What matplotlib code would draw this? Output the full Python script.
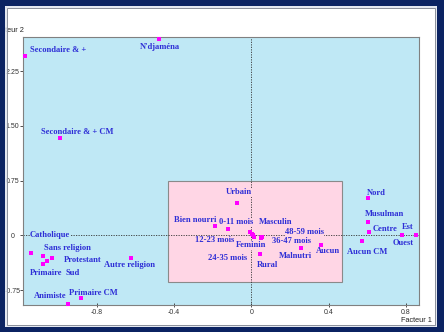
import numpy as np
import matplotlib.pyplot as plt
from matplotlib.patches import Rectangle

# modalities and their coordinates on factor 1 / factor 2
names = ["Secondaire & +", "N'djaména", "Secondaire & + CM", "Catholique", "Sans religion",
         "Protestant", "Sud", "Primaire", "Autre religion", "Animiste", "Primaire CM",
         "Urbain", "Bien nourri", "0-11 mois", "Masculin", "12-23 mois", "24-35 mois",
         "Feminin", "48-59 mois", "36-47 mois", "Rural", "Malnutri", "Aucun",
         "Nord", "Musulman", "Centre", "Est", "Ouest", "Aucun CM"]
f1 = [-1.173, -0.478, -0.991, -1.141, -1.081, -1.031, -1.058, -1.078, -0.623, -0.948, -0.881,
      -0.073, -0.188, -0.119, -0.007, 0.005, 0.009, 0.014, 0.057, 0.050, 0.045, 0.256, 0.360,
      0.606, 0.606, 0.611, 0.779, 0.855, 0.572]
f2 = [2.456, 2.689, 1.333, -0.238, -0.288, -0.307, -0.352, -0.393, -0.315, -0.937, -0.863,
      0.438, 0.127, 0.086, 0.041, 0.014, -0.003, -0.019, -0.023, -0.034, -0.252, -0.170, -0.129,
      0.511, 0.178, 0.049, 0.0, 0.0, -0.078]

xticks = [-0.8, -0.4, 0, 0.4, 0.8]
xtick_labels = ["-0.8", "-0.4", "0", "0.4", "0.8"]
yticks = [-0.75, 0, 0.75, 1.5, 2.25]
ytick_labels = ["-0.75", "0", "0.75", "1.50", "2.25"]

# zoom box (pink area)
box_x = (-0.434, 0.4715)
box_y = (-0.636, 0.744)

# label offsets in pixels (dx, dy, alignment)
label_pos = {
    "Secondaire & +": (5, 6, "left"),
    "N'djaména": (1, -8, "center"),
    "Secondaire & + CM": (17, 6, "center"),
    "Catholique": (-1, 17.7, "left"),
    "Sans religion": (1.6, 8, "left"),
    "Protestant": (12, -2.3, "left"),
    "Sud": (18, -11.7, "left"),
    "Primaire": (-13.6, -8.7, "left"),
    "Autre religion": (-1.7, -6.4, "center"),
    "Animiste": (-1.6, 7.7, "right"),
    "Primaire CM": (-12, 5, "left"),
    "Urbain": (2, 11, "center"),
    "Bien nourri": (1.7, 6, "right"),
    "0-11 mois": (-9.3, 6.7, "left"),
    "Masculin": (9.3, 10, "left"),
    "12-23 mois": (-18.3, -5.7, "right"),
    "24-35 mois": (-5.7, -22.2, "right"),
    "Feminin": (-3, -8.6, "center"),
    "48-59 mois": (22.7, 5.3, "left"),
    "36-47 mois": (11, -2.9, "left"),
    "Rural": (7, -11.3, "center"),
    "Malnutri": (-5.2, -8, "center"),
    "Aucun": (7.6, -6.3, "center"),
    "Nord": (-1.6, 5, "left"),
    "Musulman": (-3.3, 8, "left"),
    "Centre": (3.4, 3, "left"),
    "Est": (0, 8, "left"),
    "Ouest": (-2.3, -7.7, "right"),
    "Aucun CM": (5.8, -10.7, "center"),
}

W, H = 444, 332
bg_blue = "#bfe8f5"
bg_pink = "#ffd6e5"
txt_blue = "#2e2ed6"

fig = plt.figure(figsize=(W / 100, H / 100), dpi=100)
fig.patch.set_facecolor("white")
ax = fig.add_axes([23 / W, 1 - 305 / H, (419.3 - 23) / W, (305 - 36.7) / H])
ax.set_facecolor(bg_blue)
ax.set_xlim(-1.183, 0.870)
ax.set_ylim(-0.955, 2.72)

ax.add_patch(Rectangle((box_x[0], box_y[0]), box_x[1] - box_x[0], box_y[1] - box_y[0],
                       fc=bg_pink, ec="#8a8a8a", lw=0.8, zorder=1))

ax.axhline(0, color="#333333", lw=0.6, ls=(0, (1.5, 1.5)), zorder=2)
ax.axvline(0, color="#333333", lw=0.6, ls=(0, (1.5, 1.5)), zorder=2)

ax.scatter(f1, f2, marker="s", s=5, color="#ff00ff", lw=0, zorder=5)

for n, x, y in zip(names, f1, f2):
    dx, dy, ha = label_pos[n]
    inside = box_x[0] < x < box_x[1] and box_y[0] < y < box_y[1]
    ax.annotate(n, (x, y), xytext=(dx, dy), textcoords="offset pixels", ha=ha, va="center",
                fontsize=6.1, family="Liberation Serif", fontweight="bold", color=txt_blue,
                bbox=dict(boxstyle="square,pad=0.05", fc=bg_pink if inside else bg_blue, ec="none"),
                zorder=4)

for s in ax.spines.values():
    s.set_color("#808080")
    s.set_linewidth(0.8)

ax.set_xticks(xticks)
ax.set_xticklabels(xtick_labels, family="Liberation Sans", fontsize=5)
ax.set_yticks(yticks)
ax.set_yticklabels(ytick_labels, family="Liberation Sans", fontsize=5, ha="center")
ax.tick_params(axis="x", direction="inout", length=3, width=0.6, pad=1.7, colors="#333333")
ax.tick_params(axis="y", direction="out", length=2, width=0.6, pad=5.5, colors="#333333")

fig.text(432 / W, 1 - 320 / H, "Facteur 1", ha="right", va="center", fontsize=5.3,
         family="Liberation Sans", color="#222222")
fig.text(24 / W, 1 - 30 / H, "Facteur 2", ha="right", va="center", fontsize=5.3,
         family="Liberation Sans", color="#222222")

# navy frame around the picture
navy = "#0b2362"
for (x0, y0, x1, y1) in [(0, 0, 5, H), (0, 0, W, 6), (437, 0, W, H), (0, 327, W, H)]:
    fig.add_artist(Rectangle((x0 / W, 1 - y1 / H), (x1 - x0) / W, (y1 - y0) / H,
                             transform=fig.transFigure, fc=navy, ec="none", zorder=10))
fig.add_artist(Rectangle((5.8 / W, 1 - 326.2 / H), 430.4 / W, 319.4 / H, transform=fig.transFigure,
                         fill=False, ec="#dfe4ee", lw=1.2, zorder=11))
fig.add_artist(Rectangle((7 / W, 1 - 325 / H), 428 / W, 317 / H, transform=fig.transFigure,
                         fill=False, ec="#8a8f9a", lw=0.7, zorder=11))

fig.savefig("out.png", dpi=100)
